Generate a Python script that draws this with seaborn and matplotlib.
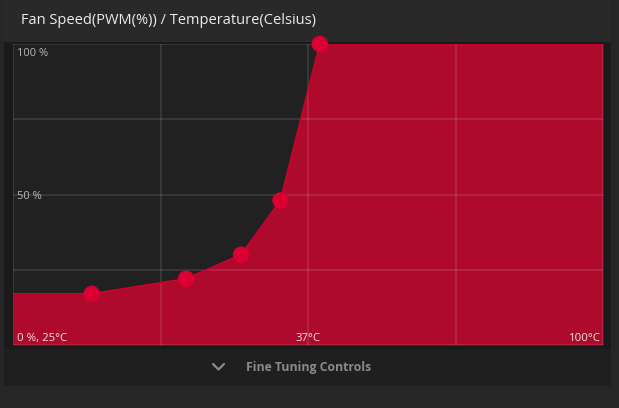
import numpy as np
import pandas as pd
import matplotlib
matplotlib.use("Agg")
import matplotlib.pyplot as plt
import seaborn as sns
from matplotlib.patches import Rectangle
from matplotlib.lines import Line2D

# fan curve
temps = [25, 35, 47, 54, 59, 64, 100]      # degC
speeds = [17, 17, 22, 30, 48, 100, 100]    # PWM %
point_temps = [35, 47, 54, 59, 64]
point_speeds = [17, 22, 30, 48, 100]

title = "Fan Speed(PWM(%)) / Temperature(Celsius)"
y_labels = ["100 %", "50 %"]
x_labels = ["0 %, 25\u00b0C", "37\u00b0C", "100\u00b0C"]
footer = "Fine Tuning Controls"

sns.set_style("dark")
plt.rcParams['font.family'] = ['Open Sans', 'DejaVu Sans']

curve = pd.DataFrame({"temp": temps, "speed": speeds})
points = pd.DataFrame({"temp": point_temps, "speed": point_speeds})

fig = plt.figure(figsize=(6.19, 4.08), dpi=100)
fig.patch.set_facecolor("#262626")

W, H = 619, 408
def fx(px):
	return px / W
def fy(py):
	return 1 - py / H

# card and header band
fig.add_artist(Rectangle((fx(4), fy(386)), fx(607), 386 / H, transform=fig.transFigure,
	facecolor="#1f1f1f", edgecolor="none", zorder=0))
fig.add_artist(Rectangle((fx(4), fy(42)), fx(607), 42 / H, transform=fig.transFigure,
	facecolor="#292929", edgecolor="none", zorder=0))
fig.add_artist(Rectangle((fx(4), fy(349)), fx(607), 307 / H, transform=fig.transFigure,
	facecolor="#1a1a1a", edgecolor="none", zorder=0))

ax = fig.add_axes([fx(13), fy(345), 590 / W, 301 / H])
ax.set_facecolor("#212121")

ax.fill_between(curve["temp"], curve["speed"], 0, color="#ae0a2c", lw=0, zorder=2)
sns.lineplot(data=curve, x="temp", y="speed", ax=ax, color="#d5002f", lw=1.2, zorder=3)
sns.scatterplot(data=points, x="temp", y="speed", ax=ax, color="#dc0032", s=140,
	edgecolor="none", zorder=5, clip_on=False)

ax.set_xlim(25, 100)
ax.set_ylim(0, 100)
ax.set_xticks(np.linspace(25, 100, 5))
ax.set_yticks(np.linspace(0, 100, 5))
ax.grid(True, color="white", alpha=0.1, lw=1.5, zorder=4)
ax.set_axisbelow(False)
ax.tick_params(length=0, labelbottom=False, labelleft=False)
ax.set_xlabel("")
ax.set_ylabel("")
for s in ax.spines.values():
	s.set_visible(False)

# in-plot labels
ax.text(0.006, 0.988, y_labels[0], transform=ax.transAxes, ha="left", va="top",
	fontsize=8, color="#b8b8b8", zorder=6)
ax.text(0.006, 0.492, y_labels[1], transform=ax.transAxes, ha="left", va="center",
	fontsize=8, color="#b8b8b8", zorder=6)
ax.text(0.006, 0.003, x_labels[0], transform=ax.transAxes, ha="left", va="bottom",
	fontsize=8.2, color="#e6e6e6", zorder=6)
ax.text(0.5, 0.003, x_labels[1], transform=ax.transAxes, ha="center", va="bottom",
	fontsize=8.2, color="#e6e6e6", zorder=6)
ax.text(0.996, 0.003, x_labels[2], transform=ax.transAxes, ha="right", va="bottom",
	fontsize=8.2, color="#e6e6e6", zorder=6)

fig.text(fx(21), fy(21), title, ha="left", va="center", fontsize=10.5, color="#ececec")
fig.text(fx(308.5), fy(367), footer, ha="center", va="center", fontsize=8.8,
	fontweight="bold", color="#868b92")
fig.add_artist(Line2D([fx(213), fx(218.5), fx(224)], [fy(364), fy(369.5), fy(364)],
	transform=fig.transFigure, color="#868b92", lw=1.6))

fig.savefig("out.png", dpi=100, facecolor=fig.get_facecolor())
